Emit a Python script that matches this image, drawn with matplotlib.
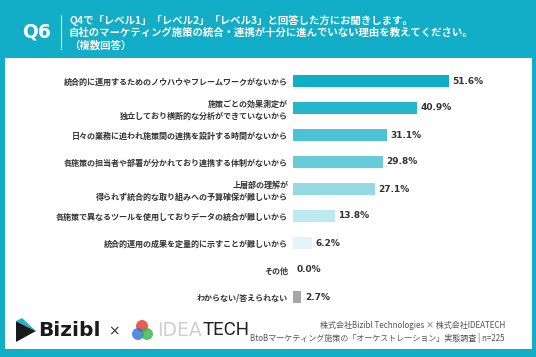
import matplotlib.pyplot as plt
from matplotlib.patches import Rectangle, Ellipse, Polygon

plt.rcParams['font.family'] = ['Noto Sans CJK JP', 'DejaVu Sans']

labels = [
    "統合的に運用するためのノウハウやフレームワークがないから",
    "施策ごとの効果測定が\n独立しており横断的な分析ができていないから",
    "日々の業務に追われ施策間の連携を設計する時間がないから",
    "各施策の担当者や部署が分かれており連携する体制がないから",
    "上層部の理解が\n得られず統合的な取り組みへの予算確保が難しいから",
    "各施策で異なるツールを使用しておりデータの統合が難しいから",
    "統合的運用の成果を定量的に示すことが難しいから",
    "その他",
    "わからない/答えられない",
]
values = [51.6, 40.9, 31.1, 29.8, 27.1, 13.8, 6.2, 0.0, 2.7]
colors = ["#0FAFC8", "#25B6CC", "#4BC3D5", "#68CBDA", "#93DAE5",
          "#BDE8EF", "#E2F5F8", "#E2F5F8", "#A6A6A6"]

title_lines = [
    "Q4で「レベル1」「レベル2」「レベル3」と回答した方にお聞きします。",
    "自社のマーケティング施策の統合・連携が十分に進んでいない理由を教えてください。",
    "（複数回答）",
]
source_lines = [
    "株式会社Bizibl Technologies × 株式会社IDEATECH",
    "BtoBマーケティング施策の「オーケストレーション」実態調査 | n=225",
]

W, H = 536, 357
teal = "#12ADC6"
fig = plt.figure(figsize=(W / 100, H / 100), dpi=100, facecolor=teal)


def fx(px):
    return px / W


def fy(py):
    return 1 - py / H


# white panel
fig.patches.append(Rectangle((fx(5), fy(349)), 527 / W, 291 / H,
                             transform=fig.transFigure, facecolor="white",
                             edgecolor="none", zorder=-5))

# header
fig.text(fx(37), fy(32), "Q6", color="white", fontsize=13.5,
         fontweight="bold", ha="center", va="center", family="DejaVu Sans")
fig.add_artist(plt.Line2D([fx(61), fx(61)], [fy(15), fy(49)],
                          color="white", lw=0.8, alpha=0.8))
for i, line in enumerate(title_lines):
    fig.text(fx(69), fy(20 + i * 12.5), line, color="white",
             fontsize=7.5, fontweight="bold", ha="left", va="center")

# bars
ax_left, ax_w = 293, 200
ax_top, ax_bot = 67.5, 310.5
ax = fig.add_axes([fx(ax_left), fy(ax_bot), ax_w / W, (ax_bot - ax_top) / H])
ax.set_facecolor("none")
y = list(range(len(values)))
ax.barh(y, values, height=0.48, color=colors)
ax.set_xlim(0, ax_w / 3.02)
ax.set_ylim(len(values) - 0.5, -0.5)
for yi, v in zip(y, values):
    ax.text(v + 1.2, yi, f"{v:.1f}%", va="center", ha="left", fontsize=6.5,
            fontweight="bold", color="#333333", family="DejaVu Sans")
ax.set_yticks(y)
ax.set_yticklabels(labels, fontsize=5.8, fontweight="bold", color="#333333",
                   multialignment="right", linespacing=1.35)
ax.tick_params(axis="y", length=0, pad=3.5)
ax.set_xticks([])
for s in ax.spines.values():
    s.set_visible(False)

# footer logos
fig.patches.append(Polygon([(fx(16), fy(321)), (fx(16), fy(342)),
                            (fx(36), fy(331))], closed=True,
                           transform=fig.transFigure, facecolor="#1A1A1A",
                           edgecolor="none"))
fig.patches.append(Polygon([(fx(16), fy(321)), (fx(22), fy(318)),
                            (fx(36), fy(331))], closed=True,
                           transform=fig.transFigure, facecolor="#22B3C9",
                           edgecolor="none"))
fig.text(fx(38), fy(331), "Bizibl", fontsize=14.5, fontweight="bold",
         color="#1A1A1A", ha="left", va="center", family="DejaVu Sans")
fig.text(fx(114), fy(331), "×", fontsize=10, color="#333333",
         ha="center", va="center", family="DejaVu Sans")
for cx, cy, c in [(142, 326, "#E8312F"), (138, 334, "#2E6FD9"), (147, 334, "#33B34A")]:
    fig.patches.append(Ellipse((fx(cx), fy(cy)), 12 / W, 12 / H,
                               transform=fig.transFigure, facecolor=c,
                               edgecolor="none", alpha=0.8))
fig.text(fx(157), fy(330), "IDEA", fontsize=13.5, color="#CFCFCF",
         ha="left", va="center", family="DejaVu Sans")
fig.text(fx(203), fy(330), "TECH", fontsize=13.5, color="#222222",
         ha="left", va="center", family="Roboto")

for i, line in enumerate(source_lines):
    fig.text(fx(505), fy(325 + i * 13), line, fontsize=5.8,
             color="#555555", ha="right", va="center")

fig.savefig("out.png", dpi=100, facecolor=teal)
